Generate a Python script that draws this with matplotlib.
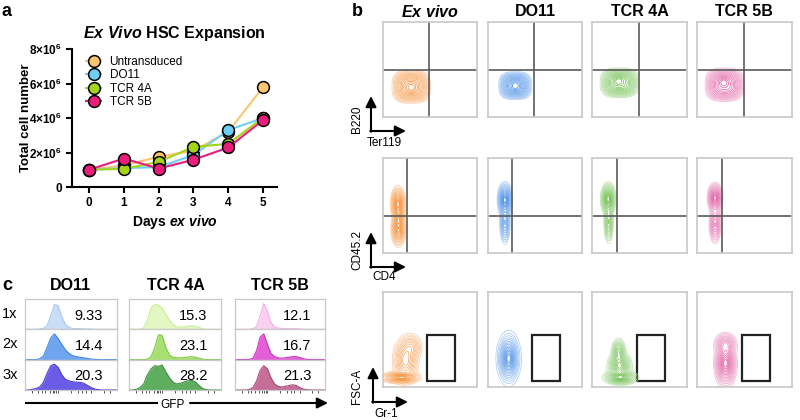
import numpy as np
import matplotlib
matplotlib.use('Agg')
import matplotlib.pyplot as plt
from matplotlib.colors import to_rgb

plt.rcParams['font.family'] = ['Liberation Sans', 'DejaVu Sans']
plt.rcParams['mathtext.fontset'] = 'custom'
plt.rcParams['mathtext.rm'] = 'Liberation Sans:bold'
plt.rcParams['mathtext.bf'] = 'Liberation Sans:bold'
plt.rcParams['mathtext.it'] = 'Liberation Sans:bold:italic'

# ---------------- data ----------------
# panel a
days = [0, 1, 2, 3, 4, 5]
series_names = ['Untransduced', 'DO11', 'TCR 4A', 'TCR 5B']
untransduced = [1.0e6, 1.25e6, 1.75e6, 2.1e6, 3.2e6, 5.79e6]
do11 = [1.0e6, 1.1e6, 1.15e6, 1.85e6, 3.3e6, 4.0e6]
tcr4a = [1.0e6, 1.05e6, 1.45e6, 2.33e6, 2.5e6, 4.02e6]
tcr5b = [1.0e6, 1.65e6, 1.07e6, 1.58e6, 2.29e6, 3.88e6]
series_colors = ['#FDC56E', '#6DCFF6', '#A3D417', '#EC1C7C']
yticks_a = [0, 2e6, 4e6, 6e6, 8e6]
ytick_labels_a = ['0', r'$2{\times}10^{6}$', r'$4{\times}10^{6}$', r'$6{\times}10^{6}$', r'$8{\times}10^{6}$']

# panel b : populations as (cx, cy, sx, sy, weight, exponent) in gate-plot units
b_columns = ['Ex vivo', 'DO11', 'TCR 4A', 'TCR 5B']
b_colors = ['#F5882A', '#3C86E6', '#66BB44', '#E0539E']
b_row_axes = [('B220', 'Ter119'), ('CD45.2', 'CD4'), ('FSC-A', 'Gr-1')]
b_quadrants = [(0.49, 0.50), (0.26, 0.39), None]
b_gate = (0.47, 0.06, 0.30, 0.49)   # x, y, w, h for Gr-1 gate
b_row1_pops = [
    [(0.30, 0.32, 0.105, 0.09, 1.0, 3), (0.30, 0.31, 0.035, 0.035, 0.25, 2)],
    [(0.29, 0.33, 0.09, 0.075, 1.0, 3), (0.29, 0.33, 0.035, 0.035, 0.25, 2)],
    [(0.29, 0.36, 0.105, 0.08, 1.0, 3), (0.28, 0.38, 0.035, 0.035, 0.25, 2)],
    [(0.29, 0.34, 0.105, 0.09, 1.0, 3), (0.28, 0.37, 0.035, 0.035, 0.25, 2)],
]
b_row2_pops = [
    [(0.16, 0.52, 0.03, 0.07, 1.0, 2), (0.165, 0.25, 0.03, 0.07, 0.9, 2), (0.165, 0.38, 0.025, 0.06, 0.5, 2)],
    [(0.18, 0.56, 0.03, 0.07, 1.0, 2), (0.18, 0.32, 0.022, 0.09, 0.5, 2)],
    [(0.17, 0.57, 0.03, 0.065, 1.0, 2), (0.175, 0.33, 0.02, 0.09, 0.5, 2)],
    [(0.19, 0.58, 0.03, 0.06, 1.0, 2), (0.19, 0.30, 0.025, 0.08, 0.5, 2)],
]
b_row3_pops = [
    [(0.19, 0.10, 0.08, 0.025, 1.0, 2), (0.24, 0.28, 0.055, 0.10, 0.6, 2), (0.30, 0.42, 0.05, 0.06, 0.3, 2)],
    [(0.22, 0.30, 0.04, 0.09, 1.0, 2), (0.22, 0.30, 0.06, 0.13, 0.3, 2)],
    [(0.30, 0.10, 0.07, 0.03, 0.8, 2), (0.29, 0.22, 0.05, 0.06, 0.7, 2), (0.28, 0.36, 0.03, 0.06, 0.5, 2)],
    [(0.30, 0.25, 0.045, 0.10, 1.0, 2), (0.30, 0.45, 0.05, 0.05, 0.4, 2)],
]

# panel c : GFP histograms (relative height at GFP grid)
c_groups = ['DO11', 'TCR 4A', 'TCR 5B']
c_rows = ['1x', '2x', '3x']
gfp_grid = [0.00, 0.04, 0.08, 0.12, 0.16, 0.20, 0.24, 0.28, 0.32, 0.36, 0.40, 0.44, 0.48,
            0.52, 0.56, 0.60, 0.64, 0.68, 0.72, 0.76, 0.80, 0.84, 0.88, 0.92, 0.96, 1.00]
do11_1x = [0, 0, 0, 0, 0.01, 0.03, 0.12, 0.45, 0.82, 0.78, 0.42, 0.16, 0.06, 0.03, 0.02, 0.02, 0.01, 0.01, 0.01, 0, 0, 0, 0, 0, 0, 0]
do11_2x = [0, 0, 0, 0, 0.03, 0.12, 0.40, 0.72, 0.85, 0.70, 0.50, 0.32, 0.20, 0.13, 0.10, 0.08, 0.06, 0.04, 0.02, 0.01, 0, 0, 0, 0, 0, 0]
do11_3x = [0, 0, 0.02, 0.05, 0.10, 0.25, 0.55, 0.80, 0.85, 0.75, 0.50, 0.35, 0.30, 0.27, 0.26, 0.25, 0.22, 0.15, 0.08, 0.03, 0.01, 0, 0, 0, 0, 0]
tcr4a_1x = [0, 0, 0, 0, 0.05, 0.30, 0.70, 0.82, 0.80, 0.70, 0.50, 0.30, 0.15, 0.08, 0.07, 0.08, 0.10, 0.12, 0.10, 0.06, 0.02, 0, 0, 0, 0, 0]
tcr4a_2x = [0, 0, 0, 0, 0, 0.02, 0.10, 0.40, 0.82, 0.80, 0.40, 0.15, 0.08, 0.06, 0.06, 0.07, 0.09, 0.10, 0.08, 0.05, 0.02, 0, 0, 0, 0, 0]
tcr4a_3x = [0, 0, 0.02, 0.08, 0.20, 0.50, 0.70, 0.80, 0.78, 0.82, 0.60, 0.40, 0.25, 0.20, 0.22, 0.27, 0.30, 0.32, 0.27, 0.15, 0.05, 0.01, 0, 0, 0, 0]
tcr5b_1x = [0, 0, 0, 0, 0, 0.02, 0.10, 0.45, 0.85, 0.60, 0.22, 0.08, 0.04, 0.03, 0.02, 0.02, 0.02, 0.02, 0.01, 0, 0, 0, 0, 0, 0, 0]
tcr5b_2x = [0, 0, 0, 0, 0.01, 0.05, 0.30, 0.75, 0.85, 0.50, 0.20, 0.10, 0.06, 0.05, 0.06, 0.08, 0.10, 0.10, 0.07, 0.03, 0.01, 0, 0, 0, 0, 0]
tcr5b_3x = [0, 0, 0, 0, 0.02, 0.08, 0.30, 0.65, 0.80, 0.70, 0.40, 0.20, 0.12, 0.10, 0.12, 0.15, 0.17, 0.15, 0.08, 0.03, 0.01, 0, 0, 0, 0, 0]
c_values = [['9.33', '14.4', '20.3'], ['15.3', '23.1', '28.2'], ['12.1', '16.7', '21.3']]
c_fill = [['#C9DDF7', '#6FA5EE', '#6B5CE8'], ['#E2F7C2', '#A9DF72', '#5DAE5E'], ['#FAD0F1', '#E25FD6', '#C66E98']]
c_edge = [['#A8C8F0', '#3F84E5', '#4A3BD8'], ['#C6EE93', '#7BCB3C', '#3E8E3F'], ['#F5ADE6', '#CC2FBF', '#A84B78']]
gfp_ticks = [0.08, 0.14, 0.18, 0.22, 0.27, 0.30, 0.32, 0.34, 0.36, 0.50, 0.58, 0.62, 0.66, 0.72, 0.86, 0.92]

# ---------------- figure ----------------
W, H = 800, 420
fig = plt.figure(figsize=(8, 4.2), dpi=100)


def add_ax(x0, y0, x1, y1):
    return fig.add_axes([x0 / W, 1 - y1 / H, (x1 - x0) / W, (y1 - y0) / H])


# ---- panel a ----
axa = add_ax(72, 49, 277, 187)
for vals, name, col in zip([untransduced, do11, tcr4a, tcr5b], series_names, series_colors):
    axa.plot(days, vals, '-o', color=col, lw=1.5, ms=8.5, mfc=col, mec='black', mew=1.1,
             label=name, clip_on=False, zorder=3)
axa.set_xlim(-0.49, 5.4)
axa.set_ylim(0, 8e6)
axa.set_yticks(yticks_a)
axa.set_yticklabels(ytick_labels_a)
axa.set_xticks(days)
axa.set_xticklabels([str(d) for d in days])
for s in ['top', 'right']:
    axa.spines[s].set_visible(False)
for s in ['left', 'bottom']:
    axa.spines[s].set_linewidth(1.5)
axa.tick_params(direction='out', length=4, width=1.5, labelsize=8.5, pad=3)
for lab in axa.get_xticklabels() + axa.get_yticklabels():
    lab.set_fontweight('bold')
axa.set_title(r'$Ex\ Vivo$ HSC Expansion', fontsize=11.5, fontweight='bold', pad=8)
axa.set_xlabel(r'Days $ex\ vivo$', fontsize=10, fontweight='bold')
axa.set_ylabel('Total cell number', fontsize=9.5, fontweight='bold')
axa.yaxis.set_label_coords(-0.195, 0.5)
axa.xaxis.set_label_coords(0.5, -0.19)
leg = axa.legend(loc='upper left', bbox_to_anchor=(0.045, 0.985), frameon=False, fontsize=8.5,
                 handlelength=1.3, handletextpad=0.7, labelspacing=0.13, borderaxespad=0)

# ---- panel b ----
b_cols_px = [(383, 477), (488, 582), (592, 687), (697, 792)]
b_rows_px = [(22, 117), (158, 253), (292, 387)]
levels = [0.02, 0.04, 0.065, 0.1, 0.14, 0.19, 0.25, 0.32, 0.4, 0.48, 0.57, 0.66, 0.75, 0.84, 0.92]
gx, gy = np.meshgrid(np.linspace(0, 1, 220), np.linspace(0, 1, 220))


def density(pops):
    z = np.zeros_like(gx)
    for cx, cy, sx, sy, w, p in pops:
        z += w * np.exp(-0.5 * (np.abs((gx - cx) / sx) ** p + np.abs((gy - cy) / sy) ** p))
    return z / z.max()


def tint(col, t):
    c = np.array(to_rgb(col))
    return tuple(c + (1 - c) * t)


for r, pops_row in enumerate([b_row1_pops, b_row2_pops, b_row3_pops]):
    for c, pops in enumerate(pops_row):
        (x0, x1), (y0, y1) = b_cols_px[c], b_rows_px[r]
        ax = add_ax(x0, y0, x1, y1)
        ax.set_xlim(0, 1)
        ax.set_ylim(0, 1)
        ax.set_xticks([])
        ax.set_yticks([])
        for s in ax.spines.values():
            s.set_color('#c8c8c8')
            s.set_linewidth(1.2)
        z = density(pops)
        cols = [tint(b_colors[c], 0.55 - 0.55 * i / (len(levels) - 1)) for i in range(len(levels))]
        ax.contour(gx, gy, z, levels=levels, colors=cols, linewidths=0.5)
        q = b_quadrants[r]
        if q is not None:
            ax.axvline(q[0], color='#5a5a5a', lw=1.2)
            ax.axhline(q[1], color='#5a5a5a', lw=1.2)
        else:
            gxr, gyr, gw, gh = b_gate
            ax.add_patch(plt.Rectangle((gxr, gyr), gw, gh, fill=False, ec='#222222', lw=1.6))

# ---- panel c ----
c_cols_px = [(25, 117), (129, 221), (235, 325)]
c_top, c_bot = 299, 390
row_h = (c_bot - c_top) / 3
hists = [[do11_1x, do11_2x, do11_3x], [tcr4a_1x, tcr4a_2x, tcr4a_3x], [tcr5b_1x, tcr5b_2x, tcr5b_3x]]
for g in range(3):
    x0, x1 = c_cols_px[g]
    for r in range(3):
        y0 = c_top + r * row_h
        ax = add_ax(x0, y0, x1, y0 + row_h)
        ax.set_xlim(0, 1)
        ax.set_ylim(0, 1)
        ax.fill_between(gfp_grid, 0, hists[g][r], color=c_fill[g][r], lw=0)
        ax.plot(gfp_grid, hists[g][r], color=c_edge[g][r], lw=0.8)
        ax.text(0.85, 0.45, c_values[g][r], ha='right', va='center', fontsize=10.5)
        ax.set_yticks([])
        if r == 2:
            ax.set_xticks(gfp_ticks)
            ax.tick_params(axis='x', length=2, width=0.6, labelbottom=False, direction='out', color='#333333')
        else:
            ax.set_xticks([])
        for s in ax.spines.values():
            s.set_color('#c8c8c8')
            s.set_linewidth(0.9)

# ---- overlay for labels and arrows (pixel coordinates) ----
ov = fig.add_axes([0, 0, 1, 1])
ov.set_xlim(0, W)
ov.set_ylim(H, 0)
ov.axis('off')
ov.patch.set_alpha(0)

ov.text(6, 12, 'a', fontsize=13, fontweight='bold', ha='center', va='center')
ov.text(357, 12, 'b', fontsize=13, fontweight='bold', ha='center', va='center')
ov.text(7, 285, 'c', fontsize=13, fontweight='bold', ha='center', va='center')

col_title_x = [430, 535, 640, 744]
for i, t in enumerate(b_columns):
    s = r'$Ex\ vivo$' if i == 0 else t
    ov.text(col_title_x[i], 12, s, fontsize=11.5, fontweight='bold', ha='center', va='center')

arrow_kw = dict(arrowstyle='-|>', color='black', lw=1.5, mutation_scale=16, shrinkA=0, shrinkB=0)
corners = [(371, 131), (371, 267), (373, 402)]
ylab_y = [119, 250, 386]
xlab_y = [143, 277, 414]
for (cx, cy), (yl, xl), ly, lx in zip(corners, b_row_axes, ylab_y, xlab_y):
    ov.annotate('', xy=(cx, cy - 35), xytext=(cx, cy + 0.75), arrowprops=arrow_kw)
    ov.annotate('', xy=(cx + 35, cy), xytext=(cx - 0.75, cy), arrowprops=arrow_kw)
    ov.text(357, ly, yl, rotation=90, fontsize=8.5, ha='center', va='center')
    ov.text(cx + 13, lx, xl, fontsize=8.5, ha='center', va='center')

c_title_x = [70, 176, 280]
for i, t in enumerate(c_groups):
    ov.text(c_title_x[i], 285, t, fontsize=11.5, fontweight='bold', ha='center', va='center')
for r, t in enumerate(c_rows):
    ov.text(10, c_top + (r + 0.5) * row_h, t, fontsize=10.5, ha='center', va='center')

ov.plot([26, 157], [403, 403], color='black', lw=1.5)
ov.annotate('', xy=(328, 403), xytext=(190, 403), arrowprops=arrow_kw)
ov.text(173, 405, 'GFP', fontsize=8.5, ha='center', va='center')

fig.savefig('out.png', dpi=100)
